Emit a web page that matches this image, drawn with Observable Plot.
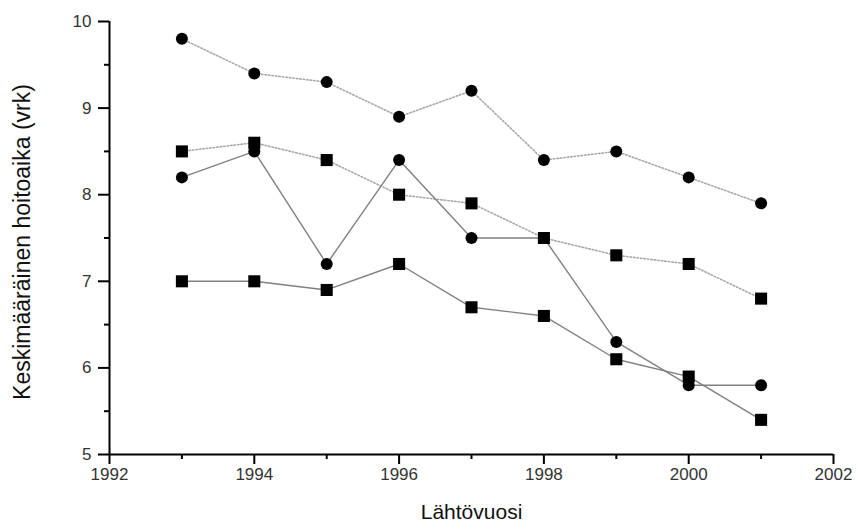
<!DOCTYPE html>
<html>
<head>
<meta charset="utf-8">
<script src="https://cdn.jsdelivr.net/npm/d3@7"></script>
<script src="https://cdn.jsdelivr.net/npm/@observablehq/plot@0.6"></script>
<style>
  html, body { margin: 0; padding: 0; background: #fff; }
  #chart { width: 857px; height: 524px; }
</style>
</head>
<body>
<div id="chart"></div>
<script>
const years = [1993, 1994, 1995, 1996, 1997, 1998, 1999, 2000, 2001];
const dottedCircles = [9.8, 9.4, 9.3, 8.9, 9.2, 8.4, 8.5, 8.2, 7.9];
const dottedSquares = [8.5, 8.6, 8.4, 8.0, 7.9, 7.5, 7.3, 7.2, 6.8];
const solidCircles  = [8.2, 8.5, 7.2, 8.4, 7.5, 7.5, 6.3, 5.8, 5.8];
const solidSquares  = [7.0, 7.0, 6.9, 7.2, 6.7, 6.6, 6.1, 5.9, 5.4];

const xMajorTicks = [1992, 1994, 1996, 1998, 2000, 2002];
const xMinorTicks = [1993, 1995, 1997, 1999, 2001];
const yMajorTicks = [5, 6, 7, 8, 9, 10];
const yMinorTicks = [5.5, 6.5, 7.5, 8.5, 9.5];
const xTitle = "Lähtövuosi";
const yTitle = "Keskimääräinen hoitoaika (vrk)";

const toRows = (vals) => years.map((yr, i) => ({year: yr, value: vals[i]}));

const dotOpts = (symbol, r) => ({x: "year", y: "value", symbol, r, fill: "#000", stroke: "none"});
const lineOpts = (dashed) => dashed
  ? {x: "year", y: "value", stroke: "#a8a8a8", strokeWidth: 1.6, strokeDasharray: "1.5,2"}
  : {x: "year", y: "value", stroke: "#808080", strokeWidth: 1.4};

const chart = Plot.plot({
  width: 857,
  height: 524,
  marginLeft: 109,
  marginRight: 24,
  marginTop: 21,
  marginBottom: 70,
  style: {fontFamily: "'Liberation Sans', Arial, sans-serif", color: "#000", background: "#fff"},
  x: {domain: [1992, 2002]},
  y: {domain: [5, 10]},
  marks: [
    Plot.axisX({ticks: xMajorTicks, tickSize: 10, tickFormat: () => "", strokeWidth: 2, label: null}),
    Plot.axisX({ticks: xMinorTicks, tickSize: 5, tickFormat: () => "", strokeWidth: 2, label: null}),
    Plot.axisY({ticks: yMajorTicks, tickSize: 11, tickFormat: () => "", strokeWidth: 2, label: null}),
    Plot.axisY({ticks: yMinorTicks, tickSize: 5, tickFormat: () => "", strokeWidth: 2, label: null}),
    Plot.text(xMajorTicks, {x: d => d, text: d => String(d), frameAnchor: "bottom", lineAnchor: "top", dy: 13, fontSize: 17, fill: "#333"}),
    Plot.text(yMajorTicks, {y: d => d, text: d => String(d), frameAnchor: "left", textAnchor: "end", lineAnchor: "middle", dx: -18, fontSize: 17, fill: "#333"}),
    Plot.ruleY([5], {stroke: "#000", strokeWidth: 2}),
    Plot.ruleX([1992], {stroke: "#000", strokeWidth: 2}),
    Plot.line(toRows(dottedCircles), lineOpts(true)),
    Plot.line(toRows(dottedSquares), lineOpts(true)),
    Plot.line(toRows(solidCircles), lineOpts(false)),
    Plot.line(toRows(solidSquares), lineOpts(false)),
    Plot.dot(toRows(dottedCircles), dotOpts("circle", 6)),
    Plot.dot(toRows(dottedSquares), dotOpts("square", 6.8)),
    Plot.dot(toRows(solidCircles), dotOpts("circle", 6)),
    Plot.dot(toRows(solidSquares), dotOpts("square", 6.8)),
    Plot.text([xTitle], {text: d => d, frameAnchor: "bottom", textAnchor: "middle", lineAnchor: "middle", dy: 58, fontSize: 21, fill: "#111"}),
    Plot.text([yTitle], {text: d => d, frameAnchor: "left", textAnchor: "middle", lineAnchor: "middle", dx: -87, dy: 4, rotate: -90, fontSize: 23, letterSpacing: 1.6, fill: "#111"})
  ]
});
document.getElementById("chart").appendChild(chart);
</script>
</body>
</html>
